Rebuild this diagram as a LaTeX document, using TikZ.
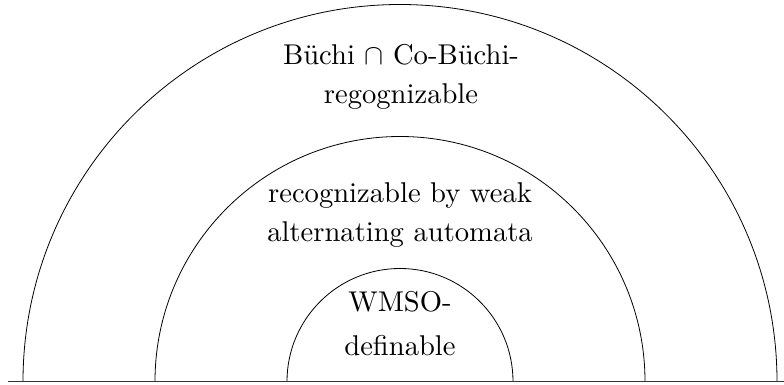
\documentclass[tikz,border=0pt]{standalone}
\begin{document}
\begin{tikzpicture}[x=1pt,y=1pt,
  arcline/.style={line width=0.8pt},
  baseline line/.style={line width=1.1pt, draw=black!80},
  lbl/.style={anchor=base, scale=2.86, inner sep=0pt}]
\useasboundingbox (0,0) rectangle (784,385);
\coordinate (c) at (400,3.5);
\coordinate (l) at (8,3.5);
\coordinate (r) at (784,3.5);
\draw[arcline] (777,3.5) arc[start angle=0,end angle=180,radius=377];
\draw[arcline] (645,3.5) arc[start angle=0,end angle=180,radius=245];
\draw[arcline] (513,3.5) arc[start angle=0,end angle=180,radius=113];
\draw[baseline line] (l) -- (r);
\node[lbl] (t1a) at (401,320) {B\"uchi $\cap$ Co-B\"uchi-};
\node[lbl] (t1b) at (401,281) {regognizable};
\node[lbl] (t2a) at (400,182) {recognizable by weak};
\node[lbl] (t2b) at (400,143) {alternating automata};
\node[lbl] (t3a) at (400,73) {WMSO-};
\node[lbl] (t3b) at (400,29) {definable};
\end{tikzpicture}
\end{document}
